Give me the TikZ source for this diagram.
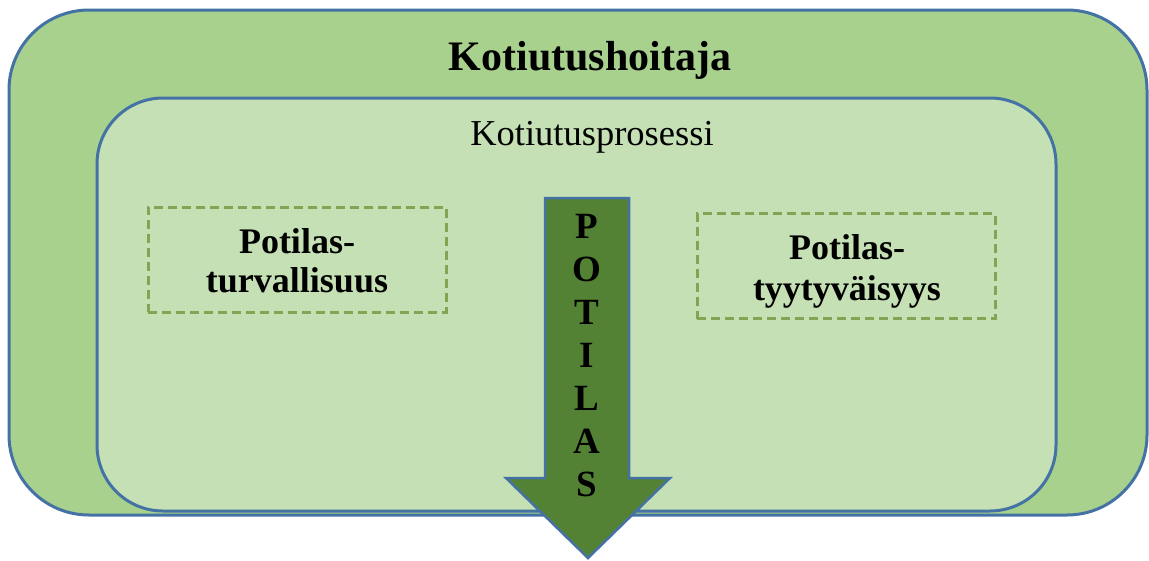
\documentclass[tikz,border=0pt]{standalone}
\usepackage{fontspec}
\setmainfont{Liberation Serif}
\definecolor{outerfill}{HTML}{A9D18E}
\definecolor{innerfill}{HTML}{C5E0B4}
\definecolor{edgeblue}{HTML}{4472A4}
\definecolor{arrowfill}{HTML}{548235}
\definecolor{dashgreen}{HTML}{82A553}
\tikzset{
  outerbox/.style={draw=edgeblue, line width=3pt, fill=outerfill, rounded corners=80pt, inner sep=0pt},
  innerbox/.style={draw=edgeblue, line width=3pt, fill=innerfill, rounded corners=66pt, inner sep=0pt},
  dashbox/.style={draw=dashgreen, line width=3pt, dash pattern=on 9pt off 5pt, inner sep=0pt,
     minimum width=298pt, minimum height=105pt},
  boxtext/.style={font=\fontsize{36}{40}\selectfont\bfseries, inner sep=0pt, anchor=base},
  letter/.style={font=\fontsize{37}{40}\selectfont\bfseries, inner sep=0pt, anchor=base},
  bigarrow/.style={draw=edgeblue, line width=2.5pt, fill=arrowfill, line join=miter}
}
\begin{document}
\begin{tikzpicture}[x=1pt,y=-1pt]
\useasboundingbox (0,0) rectangle (1149,560);
\node[outerbox, minimum width=1138pt, minimum height=505pt] (outer) at (578,262.5) {};
\node[innerbox, minimum width=959pt, minimum height=413pt] (inner) at (576.5,304.5) {};
\node[font=\fontsize{42}{48}\selectfont\bfseries, inner sep=0pt, anchor=base] (title) at (590,70) {Kotiutushoitaja};
\node[font=\fontsize{36.5}{42}\selectfont, inner sep=0pt, anchor=base] (proc) at (592,145) {Kotiutusprosessi};
\node[dashbox] (left) at (297,259.5) {};
\node[boxtext] (left1) at (297,253) {Potilas-};
\node[boxtext] (left2) at (297,292) {turvallisuus};
\node[dashbox] (right) at (846,266) {};
\node[boxtext] (right1) at (847,259) {Potilas-};
\node[boxtext] (right2) at (847,300) {tyytyväisyys};
\draw[bigarrow] (545,198) coordinate (a1) -- (629,198) -- (629,478) -- (670,478) -- (588,558) coordinate (tip) -- (506,478) -- (545,478) -- cycle;
\node[letter] (l1) at (587,238) {P};
\node[letter] (l2) at (587,281) {O};
\node[letter] (l3) at (587,324) {T};
\node[letter] (l4) at (587,367) {I};
\node[letter] (l5) at (587,410) {L};
\node[letter] (l6) at (587,453) {A};
\node[letter] (l7) at (587,496) {S};
\end{tikzpicture}
\end{document}
